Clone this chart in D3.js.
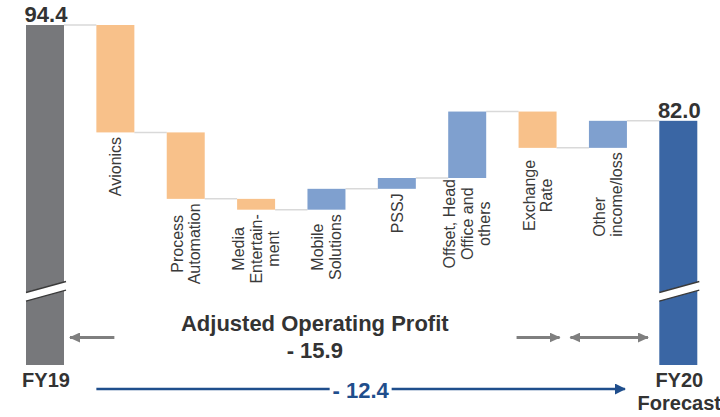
<!DOCTYPE html>
<html>
<head>
<meta charset="utf-8">
<script src="https://cdn.jsdelivr.net/npm/d3@7"></script>
<style>
  html, body { margin: 0; padding: 0; background: #fff; }
  svg { display: block; font-family: Arial, "Liberation Sans", sans-serif; }
</style>
</head>
<body>
<div id="chart"></div>
<script>
// waterfall: FY19 -> FY20 forecast
const categories = ['FY19', 'Avionics', 'Process Automation', 'Media Entertainment', 'Mobile Solutions',
  'PSSJ', 'Offset, Head Office and others', 'Exchange Rate', 'Other income/loss', 'FY20 Forecast'];
const labelLines = [['FY19'], ['Avionics'], ['Process', 'Automation'], ['Media', 'Entertain-', 'ment'],
  ['Mobile', 'Solutions'], ['PSSJ'], ['Offset, Head', 'Office and', 'others'], ['Exchange', 'Rate'],
  ['Other', 'income/loss'], ['FY20', 'Forecast']];
const startValue = 94.4;
const endValue = 82.0;
const deltas = [-13.9, -8.6, -1.4, 2.7, 1.4, 8.6, -4.7, 3.5];
const adjustedText = ['Adjusted Operating Profit', '- 15.9'];
const totalText = '- 12.4';

const width = 720;
const height = 417;
const fmt = d3.format('.1f');

const svg = d3.select('#chart').append('svg').attr('width', width).attr('height', height);

const x = d3.scaleBand()
  .domain(categories)
  .range([26, 697.3])
  .paddingInner(0.46)
  .paddingOuter(0);
const bw = x.bandwidth();

const y = d3.scaleLinear().domain([50.4, 94.4]).range([365, 25]);
const base = y.range()[0];

// running totals
let run = startValue;
const rows = [{ cat: categories[0], kind: 'total', from: startValue, to: startValue }];
deltas.forEach((d, i) => {
  rows.push({ cat: categories[i + 1], kind: d < 0 ? 'down' : 'up', from: run, to: run + d });
  run += d;
});
rows.push({ cat: categories[categories.length - 1], kind: 'end', from: endValue, to: endValue });

const color = { total: '#77787b', down: '#f8c18a', up: '#7fa0cf', end: '#3a66a4' };

// connector lines
svg.append('g').selectAll('line')
  .data(rows.slice(0, -1))
  .enter().append('line')
    .attr('x1', d => x(d.cat) + bw)
    .attr('x2', (d, i) => x(rows[i + 1].cat))
    .attr('y1', d => y(d.to))
    .attr('y2', d => y(d.to))
    .attr('stroke', '#d9d9d9')
    .attr('stroke-width', 1.5);

// bars
svg.append('g').selectAll('rect')
  .data(rows)
  .enter().append('rect')
    .attr('x', d => x(d.cat))
    .attr('width', bw)
    .attr('y', d => d.kind === 'total' || d.kind === 'end' ? y(d.to) : y(Math.max(d.from, d.to)))
    .attr('height', d => d.kind === 'total' || d.kind === 'end'
      ? base - y(d.to)
      : Math.abs(y(d.from) - y(d.to)))
    .attr('fill', d => color[d.kind]);

// axis breaks on the two total bars
[rows[0], rows[rows.length - 1]].forEach(d => {
  const x0 = x(d.cat), x1 = x0 + bw + 2;
  const g = svg.append('g');
  g.append('polygon')
    .attr('points', `${x0 - 1},292.5 ${x1},281.5 ${x1},290.2 ${x0 - 1},301.2`)
    .attr('fill', '#fff');
  [[292.5, 281.5], [301.2, 290.2]].forEach(([a, b]) => {
    g.append('line')
      .attr('x1', x0).attr('y1', a)
      .attr('x2', x1).attr('y2', b)
      .attr('stroke', '#3a3a3a')
      .attr('stroke-width', 1.3);
  });
});

// total value labels
svg.append('g').selectAll('text')
  .data([rows[0], rows[rows.length - 1]])
  .enter().append('text')
    .attr('x', d => x(d.cat) + bw / 2 + 1)
    .attr('y', d => y(d.to) - 3)
    .attr('text-anchor', 'middle')
    .attr('font-size', 22)
    .attr('font-weight', 'bold')
    .attr('fill', '#333')
    .text(d => fmt(d.to));

// bottom labels of totals
svg.append('g').selectAll('text')
  .data([0, categories.length - 1])
  .enter().append('text')
    .attr('x', i => x(categories[i]) + bw / 2 + 1)
    .attr('y', base + 22)
    .attr('text-anchor', 'middle')
    .attr('font-size', 20)
    .attr('font-weight', 'bold')
    .attr('fill', '#333')
    .selectAll('tspan')
    .data(i => labelLines[i])
    .enter().append('tspan')
      .attr('x', function () { return this.parentNode.getAttribute('x'); })
      .attr('dy', (d, j) => j === 0 ? 0 : 23)
      .text(d => d);

// rotated category labels under the delta bars
const labelGap = { 'Offset, Head Office and others': 1, 'Exchange Rate': 12 };
const labelAlign = { 'Other income/loss': 'start' };
const lh = 17.5;

rows.slice(1, -1).forEach((d, k) => {
  const i = k + 1;
  const lines = labelLines[i];
  const top = Math.max(y(d.from), y(d.to)) + (labelGap[d.cat] !== undefined ? labelGap[d.cat] : 4.5);
  const g = svg.append('g')
    .attr('transform', `translate(${x(d.cat) + bw / 2},${top}) rotate(-90)`);
  const t = g.selectAll('text')
    .data(lines)
    .enter().append('text')
      .attr('y', (s, j) => (j - (lines.length - 1) / 2) * lh)
      .attr('dy', '0.36em')
      .attr('font-size', 16)
      .attr('fill', '#3a3a3a')
      .text(s => s);
  const L = d3.max(t.nodes(), n => n.getComputedTextLength());
  if (labelAlign[d.cat] === 'start') {
    t.attr('text-anchor', 'start').attr('x', -L);
  } else {
    t.attr('text-anchor', 'middle').attr('x', -L / 2);
  }
});

// arrow markers
const defs = svg.append('defs');
const marker = (id, fill, len, half) => {
  defs.append('marker')
    .attr('id', id)
    .attr('markerUnits', 'userSpaceOnUse')
    .attr('viewBox', `0 0 ${len} ${half * 2}`)
    .attr('markerWidth', len)
    .attr('markerHeight', half * 2)
    .attr('refX', len - 1)
    .attr('refY', half)
    .attr('orient', 'auto-start-reverse')
    .append('path')
      .attr('d', `M0,0L${len},${half}L0,${half * 2}Z`)
      .attr('fill', fill);
};
marker('head-gray', '#7f7f7f', 11, 5);
marker('head-blue', '#1f4e8c', 11, 5.5);

const arrowY = 337.5;
const grayArrows = [
  { x1: x('Avionics') + 18, x2: x('FY19') + bw + 6, start: false },
  { x1: x('Exchange Rate') - 2, x2: x('Exchange Rate') + bw + 3, start: false },
  { x1: x('Other income/loss') - 18.5, x2: x('Other income/loss') + bw + 21, start: true }
];
svg.append('g').selectAll('line')
  .data(grayArrows)
  .enter().append('line')
    .attr('x1', d => d.x1)
    .attr('x2', d => d.x2)
    .attr('y1', arrowY)
    .attr('y2', arrowY)
    .attr('stroke', '#7f7f7f')
    .attr('stroke-width', 3)
    .attr('marker-end', 'url(#head-gray)')
    .attr('marker-start', d => d.start ? 'url(#head-gray)' : null);

const adjMid = (grayArrows[0].x2 + grayArrows[1].x2) / 2;
svg.append('g').selectAll('text')
  .data(adjustedText)
  .enter().append('text')
    .attr('x', adjMid)
    .attr('y', (d, i) => 331 + i * 27)
    .attr('text-anchor', 'middle')
    .attr('font-size', 22)
    .attr('font-weight', 'bold')
    .attr('fill', '#333')
    .text(d => d);

// overall change arrow
const bx1 = x('Avionics');
const bx2 = x('Other income/loss') + bw - 2;
const bMid = (bx1 + bx2) / 2;
const blueY = 389;
svg.append('line')
  .attr('x1', bx1).attr('x2', bMid - 31)
  .attr('y1', blueY).attr('y2', blueY)
  .attr('stroke', '#1f4e8c').attr('stroke-width', 2.5);
svg.append('line')
  .attr('x1', bMid + 31).attr('x2', bx2)
  .attr('y1', blueY).attr('y2', blueY)
  .attr('stroke', '#1f4e8c').attr('stroke-width', 2.5)
  .attr('marker-end', 'url(#head-blue)');
svg.append('text')
  .attr('x', bMid)
  .attr('y', blueY + 8.5)
  .attr('text-anchor', 'middle')
  .attr('font-size', 22)
  .attr('font-weight', 'bold')
  .attr('fill', '#1f4e8c')
  .text(totalText);
</script>
</body>
</html>
